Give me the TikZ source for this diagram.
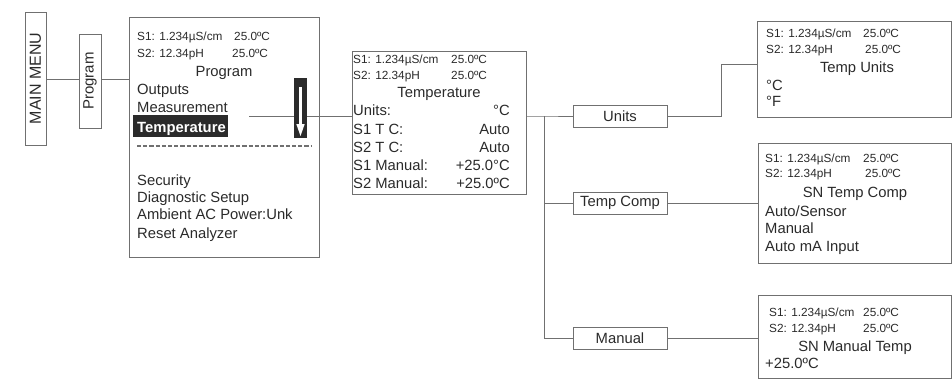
\documentclass[tikz,border=0pt]{standalone}
\usepackage{fontspec}
\setmainfont{Liberation Sans}
\definecolor{lc}{HTML}{707070}
\definecolor{tc}{HTML}{2A2A2A}
\definecolor{hl}{HTML}{2B2B2B}
\tikzset{
  ln/.style={draw=lc, line width=0.9pt},
  bx/.style={draw=lc, line width=0.9pt, inner sep=0pt, rectangle},
  sm/.style={font=\fontsize{11.8}{13}\selectfont, text=tc, inner sep=0pt, anchor=base west},
  sme/.style={sm, anchor=base east},
  lg/.style={font=\fontsize{14.8}{17}\selectfont, text=tc, inner sep=0pt, anchor=base west},
  lge/.style={lg, anchor=base east},
  lgc/.style={lg, anchor=base},
}
\begin{document}
\begin{tikzpicture}[x=1pt, y=-1pt]
\useasboundingbox (0,0) rectangle (952,381);

% left rotated boxes
\node[bx, rotate=90, minimum width=133pt, minimum height=21pt, font=\fontsize{16}{18}\selectfont, text=tc] (mm) at (35.5,78.5) {MAIN MENU};
\node[bx, rotate=90, minimum width=94pt, minimum height=22pt, font=\fontsize{15}{18}\selectfont, text=tc] (prg) at (90,81) {Program};

% Program screen
\node[bx, minimum width=190pt, minimum height=240pt] (b1) at (224,137) {};
\node[sm] (b1s1) at (137,40) {S1: 1.234µS/cm};
\node[sm] (b1s1v) at (234,40) {25.0ºC};
\node[sm] (b1s2) at (137,57) {S2: 12.34pH};
\node[sm] (b1s2v) at (232,57) {25.0ºC};
\node[lgc] (b1t) at (224,76) {Program};
\node[lg] (b1a) at (137,94) {Outputs};
\node[lg] (b1b) at (137,112) {Measurement};
\coordinate (tstart) at (249,116);
\draw[ln] (tstart) -- (tstart -| 352,0);
\node[fill=hl, minimum width=95pt, minimum height=22pt, inner sep=0pt] (hlbox) at (180.5,126) {};
\node[lg, text=white, font=\fontsize{14.8}{17}\selectfont\bfseries] (b1c) at (137,132) {Temperature};
\node[fill=hl, minimum width=13pt, minimum height=60pt, inner sep=0pt] (arbox) at (300.5,108) {};
\draw[white, line width=2.6pt] (300.5,87) -- (300.5,126);
\fill[white] (296.3,124) -- (304.7,124) -- (300.5,136) -- cycle;
\draw[lc, line width=1.3pt, dash pattern=on 4.2pt off 2pt] (137,146) -- (311,146);
\node[lg] (b1d) at (137,185) {Security};
\node[lg] (b1e) at (137,202) {Diagnostic Setup};
\node[lg] (b1f) at (137,219) {Ambient AC Power:Unk};
\node[lg] (b1g) at (137,238) {Reset Analyzer};

% Temperature screen
\node[bx, minimum width=174pt, minimum height=143pt] (b2) at (439,122.5) {};
\node[sm] (b2s1) at (353,63) {S1: 1.234µS/cm};
\node[sm] (b2s1v) at (451,63) {25.0ºC};
\node[sm] (b2s2) at (353,79) {S2: 12.34pH};
\node[sm] (b2s2v) at (451,79) {25.0ºC};
\node[lgc] (b2t) at (439,97) {Temperature};
\node[lg] (b2a) at (353,115) {Units:};
\node[lge] (b2av) at (510,115) {°C};
\node[lg] (b2b) at (353,134) {S1 T C:};
\node[lge] (b2bv) at (510,134) {Auto};
\node[lg] (b2c) at (353,152) {S2 T C:};
\node[lge] (b2cv) at (510,152) {Auto};
\node[lg] (b2d) at (353,170) {S1 Manual:};
\node[lge] (b2dv) at (510,170) {+25.0°C};
\node[lg] (b2e) at (353,188) {S2 Manual:};
\node[lge] (b2ev) at (510,188) {+25.0ºC};

% small option boxes
\node[bx, minimum width=94pt, minimum height=22pt, font=\fontsize{14.8}{17}\selectfont, text=tc] (units) at (620,116) {Units};
\node[bx, minimum width=94pt, minimum height=22pt, font=\fontsize{14.8}{17}\selectfont, text=tc] (tcomp) at (620,203) {Temp Comp};
\node[bx, minimum width=94pt, minimum height=22pt, font=\fontsize{14.8}{17}\selectfont, text=tc] (man) at (620,338) {Manual};

% Temp Units screen
\node[bx, minimum width=194pt, minimum height=96pt] (b3) at (854,69) {};
\node[sm] (b3s1) at (766,37) {S1: 1.234µS/cm};
\node[sm] (b3s1v) at (863,37) {25.0ºC};
\node[sm] (b3s2) at (766,53) {S2: 12.34pH};
\node[sm] (b3s2v) at (865,53) {25.0ºC};
\node[lgc] (b3t) at (857,72) {Temp Units};
\node[lg] (b3a) at (766,90) {°C};
\node[lg] (b3b) at (766,106) {°F};

% SN Temp Comp screen
\node[bx, minimum width=193pt, minimum height=120pt] (b4) at (854.5,203) {};
\node[sm] (b4s1) at (765,162) {S1: 1.234µS/cm};
\node[sm] (b4s1v) at (863,162) {25.0ºC};
\node[sm] (b4s2) at (765,177) {S2: 12.34pH};
\node[sm] (b4s2v) at (865,177) {25.0ºC};
\node[lgc] (b4t) at (855,197) {SN Temp Comp};
\node[lg] (b4a) at (765,216) {Auto/Sensor};
\node[lg] (b4b) at (765,233) {Manual};
\node[lg] (b4c) at (765,251) {Auto mA Input};

% SN Manual Temp screen
\node[bx, minimum width=193pt, minimum height=83pt] (b5) at (854.5,336.5) {};
\node[sm] (b5s1) at (769,316) {S1: 1.234µS/cm};
\node[sm] (b5s1v) at (863,316) {25.0ºC};
\node[sm] (b5s2) at (769,332) {S2: 12.34pH};
\node[sm] (b5s2v) at (863,332) {25.0ºC};
\node[lgc] (b5t) at (855,351) {SN Manual Temp};
\node[lg] (b5a) at (765,368) {+25.0ºC};

% connectors
\draw[ln] (mm.south |- 0,79) -- (prg.north |- 0,79);
\draw[ln] (prg.south |- 0,79) -- (b1.west |- 0,79);
\coordinate (j) at (544,116);
\draw[ln] (b2.east |- j) -- (j) -- (units.west);
\draw[ln] (j) |- (tcomp.west);
\draw[ln] (j) |- (man.west);
\coordinate (uc) at (721,64);
\draw[ln] (units.east) -| (uc) -- (uc -| b3.west);
\draw[ln] (tcomp.east) -- (tcomp.east -| b4.west);
\draw[ln] (man.east) -- (man.east -| b5.west);
\end{tikzpicture}
\end{document}
